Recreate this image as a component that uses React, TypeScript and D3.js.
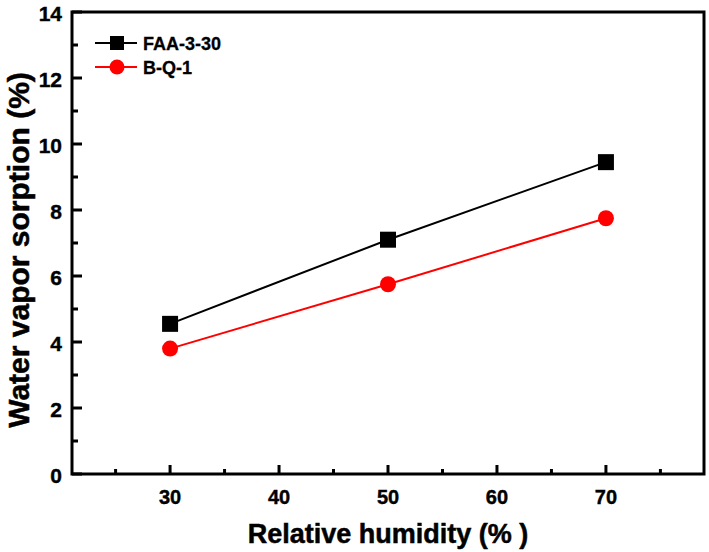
import React from "react";
import * as d3 from "d3";

const humidity = [30, 50, 70];
const faa330 = [4.55, 7.1, 9.45];
const bq1 = [3.8, 5.75, 7.75];
const xTicks = [30, 40, 50, 60, 70];
const xMinor = [25, 35, 45, 55, 65, 75];
const yTicks = [0, 2, 4, 6, 8, 10, 12, 14];
const yMinor = [1, 3, 5, 7, 9, 11, 13];
const seriesNames = ["FAA-3-30", "B-Q-1"];

const W = 709, H = 552;
const L = 72, R = 704, T = 12, B = 474;
const font = "'Liberation Sans', Arial, sans-serif";

export default function App() {
  const x = d3.scaleLinear().domain([21, 79]).range([L, R]);
  const y = d3.scaleLinear().domain([0, 14]).range([B, T]);
  const line = d3.line<number>().x((_, i) => x(humidity[i])).y((d) => y(d));
  return (
    <svg width={W} height={H} style={{ position: "absolute", left: 0, top: 0, background: "#fff" }}>
      <rect x={0} y={0} width={W} height={H} fill="#fff" />
      {/* frame */}
      <rect x={L} y={T} width={R - L} height={B - T} fill="none" stroke="#000" strokeWidth={3} />
      {/* y ticks */}
      {yTicks.map((t) => (
        <g key={"y" + t}>
          <line x1={L} x2={L + 10} y1={y(t)} y2={y(t)} stroke="#000" strokeWidth={3} />
          <text x={L - 10} y={y(t) + 1} textAnchor="end" dominantBaseline="central" fontFamily={font} fontWeight="bold" fontSize={21} stroke="#000" strokeWidth={0.4}>{t}</text>
        </g>
      ))}
      {yMinor.map((t) => (
        <line key={"ym" + t} x1={L} x2={L + 6} y1={y(t)} y2={y(t)} stroke="#000" strokeWidth={3} />
      ))}
      {/* x ticks */}
      {xTicks.map((t) => (
        <g key={"x" + t}>
          <line x1={x(t)} x2={x(t)} y1={B} y2={B - 9} stroke="#000" strokeWidth={3} />
          <text x={x(t)} y={B + 23} textAnchor="middle" dominantBaseline="central" fontFamily={font} fontWeight="bold" fontSize={20} stroke="#000" strokeWidth={0.4}>{t}</text>
        </g>
      ))}
      {xMinor.map((t) => (
        <line key={"xm" + t} x1={x(t)} x2={x(t)} y1={B} y2={B - 5} stroke="#000" strokeWidth={3} />
      ))}
      {/* series */}
      <path d={line(faa330) || ""} fill="none" stroke="#000" strokeWidth={2} />
      <path d={line(bq1) || ""} fill="none" stroke="#ff0000" strokeWidth={2} />
      {faa330.map((v, i) => (
        <rect key={"s" + i} x={x(humidity[i]) - 8} y={y(v) - 8} width={16} height={16} fill="#000" />
      ))}
      {bq1.map((v, i) => (
        <circle key={"c" + i} cx={x(humidity[i])} cy={y(v)} r={8} fill="#ff0000" />
      ))}
      {/* legend */}
      <line x1={95} x2={137} y1={43} y2={43} stroke="#000" strokeWidth={2} />
      <rect x={110} y={36} width={14} height={14} fill="#000" />
      <text x={143} y={44} dominantBaseline="central" fontFamily={font} fontWeight="bold" fontSize={18} stroke="#000" strokeWidth={0.3}>{seriesNames[0]}</text>
      <line x1={95} x2={137} y1={67} y2={67} stroke="#ff0000" strokeWidth={2} />
      <circle cx={117} cy={67} r={7.5} fill="#ff0000" />
      <text x={143} y={68} dominantBaseline="central" fontFamily={font} fontWeight="bold" fontSize={18} stroke="#000" strokeWidth={0.3}>{seriesNames[1]}</text>
      {/* axis titles */}
      <text x={388} y={543} textAnchor="middle" fontFamily={font} fontWeight="bold" fontSize={27} stroke="#000" strokeWidth={0.5}>Relative humidity (% )</text>
      <text transform={`translate(29, 250) rotate(-90)`} textAnchor="middle" fontFamily={font} fontWeight="bold" fontSize={30} stroke="#000" strokeWidth={0.5}>Water vapor sorption (%)</text>
    </svg>
  );
}
